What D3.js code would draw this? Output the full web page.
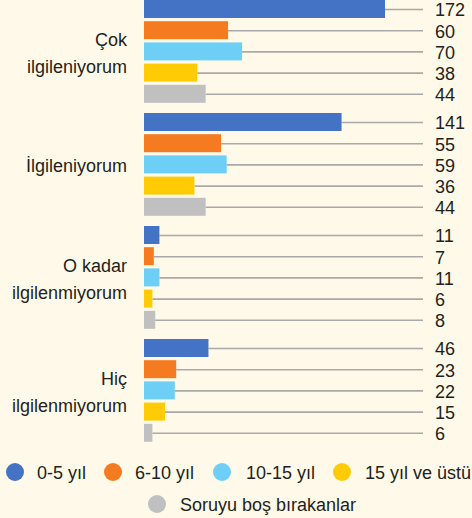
<!DOCTYPE html>
<html>
<head>
<meta charset="utf-8">
<script src="https://cdn.jsdelivr.net/npm/d3@7"></script>
<style>
  html, body { margin: 0; padding: 0; background: #fef9e8; }
  svg { display: block; }
  text { font-family: "Liberation Sans", Arial, sans-serif; fill: #231f20; }
</style>
</head>
<body>
<svg id="chart" width="472" height="518"></svg>
<script>
// Survey answers grouped by interest level, one bar per experience group
const categories = [["Çok", "ilgileniyorum"], ["İlgileniyorum"], ["O kadar", "ilgilenmiyorum"], ["Hiç", "ilgilenmiyorum"]];
const seriesNames = ["0-5 yıl", "6-10 yıl", "10-15 yıl", "15 yıl ve üstü", "Soruyu boş bırakanlar"];
const seriesColors = ["#4472c4", "#f57b20", "#6dcff6", "#ffcb05", "#c0c0c0"];
const values = [
  [172, 60, 70, 38, 44],
  [141, 55, 59, 36, 44],
  [11, 7, 11, 6, 8],
  [46, 23, 22, 15, 6]
];

const svg = d3.select("#chart");
const fontSize = 18;

const x = d3.scaleLinear().domain([0, 172]).range([144, 385]);
const y0 = d3.scaleBand().domain(d3.range(categories.length)).range([0, 452]).paddingInner(0);
const y1 = d3.scaleBand().domain(d3.range(seriesNames.length)).range([0, 102.8]).paddingInner(0.151).paddingOuter(0);

const lineEnd = 423;
const labelX = 435;
const mid = y1.range()[1] / 2;

const groups = svg.selectAll("g.group")
  .data(values)
  .join("g")
  .attr("class", "group")
  .attr("transform", (d, i) => `translate(0,${y0(i)})`);

// leader lines from bar end to value label
groups.selectAll("line")
  .data(d => d)
  .join("line")
  .attr("x1", d => x(d))
  .attr("x2", lineEnd)
  .attr("y1", (d, i) => y1(i) + y1.bandwidth() / 2 + 0.5)
  .attr("y2", (d, i) => y1(i) + y1.bandwidth() / 2 + 0.5)
  .attr("stroke", "#a9a9a9")
  .attr("stroke-width", 1.6);

groups.selectAll("rect")
  .data(d => d)
  .join("rect")
  .attr("x", x(0))
  .attr("y", (d, i) => y1(i))
  .attr("width", d => x(d) - x(0))
  .attr("height", y1.bandwidth())
  .attr("fill", (d, i) => seriesColors[i]);

groups.selectAll("text.val")
  .data(d => d)
  .join("text")
  .attr("class", "val")
  .attr("x", labelX)
  .attr("y", (d, i) => y1(i) + y1.bandwidth() / 2 + 7.5)
  .attr("font-size", fontSize)
  .text(d => d);

// category labels, right-aligned left of the bars
groups.each(function (d, i) {
  const lines = categories[i];
  const lh = 26.5;
  const t = d3.select(this).append("text")
    .attr("text-anchor", "end")
    .attr("font-size", fontSize)
    .attr("x", 127);
  lines.forEach((s, j) => {
    t.append("tspan")
      .attr("x", 127)
      .attr("y", mid + 8 + (j - (lines.length - 1) / 2) * lh)
      .text(s);
  });
});

// legend
const legendPos = [
  { cx: 15, cy: 472, tx: 37 },
  { cx: 113, cy: 472, tx: 135 },
  { cx: 222, cy: 472, tx: 246 },
  { cx: 342, cy: 472, tx: 365 },
  { cx: 157, cy: 504, tx: 180 }
];
const legend = svg.selectAll("g.legend")
  .data(seriesNames)
  .join("g")
  .attr("class", "legend");
legend.append("circle")
  .attr("cx", (d, i) => legendPos[i].cx)
  .attr("cy", (d, i) => legendPos[i].cy)
  .attr("r", 9)
  .attr("fill", (d, i) => seriesColors[i]);
legend.append("text")
  .attr("x", (d, i) => legendPos[i].tx)
  .attr("y", (d, i) => legendPos[i].cy + 6.5)
  .attr("font-size", fontSize)
  .text(d => d);
</script>
</body>
</html>
